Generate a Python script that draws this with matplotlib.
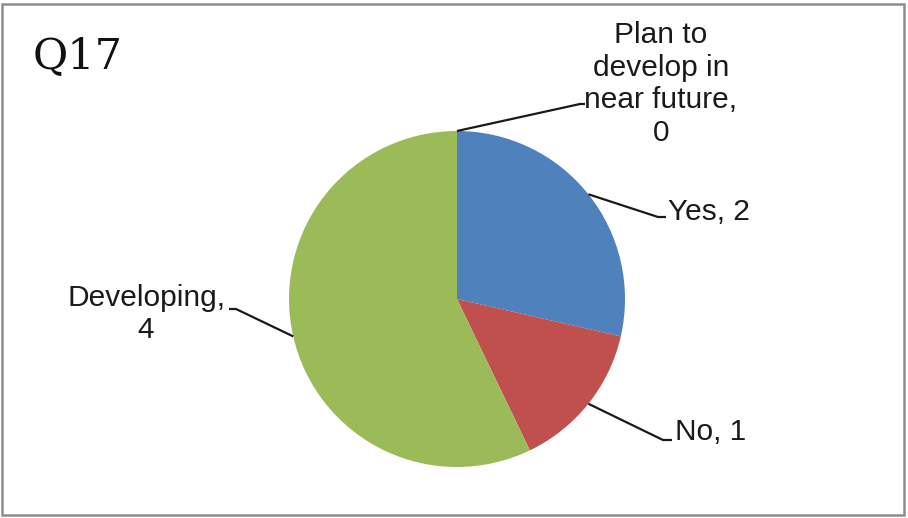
import numpy as np
import matplotlib
matplotlib.use("Agg")
import matplotlib.pyplot as plt
from matplotlib.patches import Rectangle

# data (clockwise from 12 o'clock)
categories = ["Yes", "No", "Developing", "Plan to\ndevelop in\nnear future,"]
values = [2, 1, 4, 0]
colors = ["#4F81BD", "#C0504D", "#9BBB59", "#8064A2"]
title = "Q17"

W, H = 908, 518
fig = plt.figure(figsize=(W / 100, H / 100), dpi=100)
ax = fig.add_axes([0, 0, 1, 1])

cx, cy, r = 457, H - 299, 168
ax.pie(values, colors=colors, startangle=90, counterclock=False,
       center=(cx, cy), radius=r, wedgeprops=dict(linewidth=0), frame=True)
ax.set_xlim(0, W); ax.set_ylim(0, H); ax.set_aspect("equal"); ax.axis("off")

# anchor points at wedge mid-angles
tot = float(sum(values))
ang = 90.0
anchors = []
for v in values:
    mid = ang - v / tot * 180.0
    anchors.append((cx + r * np.cos(np.radians(mid)), cy + r * np.sin(np.radians(mid))))
    ang -= v / tot * 360.0

font = dict(family="Liberation Sans", fontsize=21.5, color="#1a1a1a")
labels = [f"{categories[0]}, {values[0]}", f"{categories[1]}, {values[1]}",
          f"{categories[2]},\n{values[2]}", f"{categories[3]}\n{values[3]}"]
# (elbow, end, text xy, ha) per label
layout = [
    ((658, H - 217), (666, H - 217), (668, H - 212), "left"),
    ((663, H - 440), (672, H - 440), (675, H - 432), "left"),
    ((236, H - 309), (229, H - 309), (146, H - 314), "center"),
    ((580, H - 104), (585, H - 104), (661, H - 84), "center"),
]
for (ax0, ay0), (e1, e2, txy, ha), lab in zip(anchors, layout, labels):
    ax.plot([ax0, e1[0], e2[0]], [ay0, e1[1], e2[1]], color="#1a1a1a", lw=1.6,
            solid_capstyle="butt")
    ax.text(txy[0], txy[1], lab, ha=ha, va="center", multialignment="center",
            linespacing=1.22, **font)

ax.text(33, H - 57, title, family="DejaVu Serif", fontsize=31, ha="left",
        va="center", color="#111111")

fig.patches.append(Rectangle((2 / W, 3 / H), (W - 6) / W, (H - 7) / H,
                             transform=fig.transFigure, fill=False,
                             edgecolor="#8c8c8c", lw=1.8))
fig.savefig("out.png", dpi=100, facecolor="white")
